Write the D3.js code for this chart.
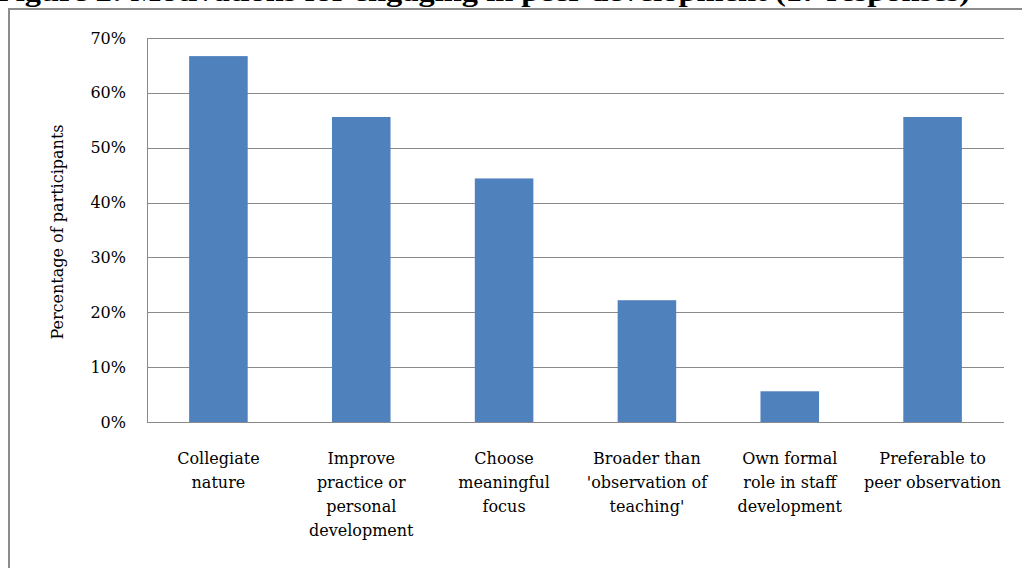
<!DOCTYPE html>
<html>
<head>
<meta charset="utf-8">
<script src="https://cdn.jsdelivr.net/npm/d3@7"></script>
<style>
  body { margin: 0; background: #fff; }
  svg { display: block; }
</style>
</head>
<body>
<div id="chart"></div>
<script>
var width = 1022;
var height = 568;

var categories = [
  ["Collegiate", "nature"],
  ["Improve", "practice or", "personal", "development"],
  ["Choose", "meaningful", "focus"],
  ["Broader than", "'observation of", "teaching'"],
  ["Own formal", "role in staff", "development"],
  ["Preferable to", "peer observation"]
];
var values = [0.667, 0.556, 0.444, 0.222, 0.056, 0.556];
var yTicks = [0, 0.1, 0.2, 0.3, 0.4, 0.5, 0.6, 0.7];
var titleText = "Figure 2: Motivations for engaging in peer development  (17 responses)";
var yLabel = "Percentage of participants";

var plot = {left: 147, right: 1004, top: 38, bottom: 422};
var serif = "'DejaVu Serif', serif";
var titleFont = "'Liberation Serif', 'Times New Roman', serif";

var svg = d3.select("#chart").append("svg")
  .attr("width", width)
  .attr("height", height);

// chart frame (only left + top visible in the crop)
svg.append("line")
  .attr("x1", 9).attr("y1", 9).attr("x2", 9).attr("y2", height)
  .attr("stroke", "#8c8c8c").attr("stroke-width", 2);
svg.append("line")
  .attr("x1", 8).attr("y1", 9).attr("x2", width).attr("y2", 9)
  .attr("stroke", "#8c8c8c").attr("stroke-width", 2);

// title, its top is cut off in the reference too
svg.append("text")
  .attr("x", -4)
  .attr("y", 1)
  .attr("textLength", 974)
  .attr("lengthAdjust", "spacingAndGlyphs")
  .attr("font-family", titleFont)
  .attr("font-weight", "bold")
  .attr("font-size", 27)
  .text(titleText);

var x = d3.scaleBand()
  .domain(d3.range(categories.length))
  .range([plot.left, plot.right])
  .paddingInner(0.59)
  .paddingOuter(0.295);

var y = d3.scaleLinear()
  .domain([0, 0.7])
  .range([plot.bottom, plot.top]);

// gridlines
svg.append("g")
  .selectAll("line")
  .data(yTicks)
  .enter()
  .append("line")
  .attr("x1", plot.left)
  .attr("x2", plot.right)
  .attr("y1", d => Math.round(y(d)) + 0.5)
  .attr("y2", d => Math.round(y(d)) + 0.5)
  .attr("stroke", "#8a8a8a")
  .attr("stroke-width", 1);

// left axis line
svg.append("line")
  .attr("x1", plot.left + 0.5).attr("x2", plot.left + 0.5)
  .attr("y1", plot.top).attr("y2", plot.bottom)
  .attr("stroke", "#8a8a8a");

// y tick labels
var yAxis = d3.axisLeft(y)
  .tickValues(yTicks)
  .tickFormat(d3.format(".0%"))
  .tickSize(0)
  .tickPadding(21);

var yg = svg.append("g")
  .attr("transform", "translate(" + plot.left + ",0)")
  .call(yAxis);
yg.select(".domain").remove();
yg.selectAll("text")
  .attr("font-family", serif)
  .attr("font-size", 16)
  .attr("fill", "#000");

// bars
svg.append("g")
  .selectAll("rect")
  .data(values)
  .enter()
  .append("rect")
  .attr("x", (d, i) => x(i))
  .attr("y", d => y(d))
  .attr("width", x.bandwidth())
  .attr("height", d => plot.bottom - y(d))
  .attr("fill", "#4f81bd");

// category labels
var lab = svg.append("g")
  .selectAll("text")
  .data(categories)
  .enter()
  .append("text")
  .attr("text-anchor", "middle")
  .attr("font-family", serif)
  .attr("font-size", 16)
  .attr("fill", "#000");

lab.selectAll("tspan")
  .data((d, i) => d.map(s => ({s: s, i: i})))
  .enter()
  .append("tspan")
  .attr("x", d => x(d.i) + x.bandwidth() / 2)
  .attr("y", (d, j) => 464 + j * 24)
  .text(d => d.s);

// y axis title
svg.append("text")
  .attr("transform", "translate(63," + ((plot.top + plot.bottom) / 2 + 2) + ") rotate(-90)")
  .attr("text-anchor", "middle")
  .attr("font-family", serif)
  .attr("font-size", 16)
  .text(yLabel);
</script>
</body>
</html>
